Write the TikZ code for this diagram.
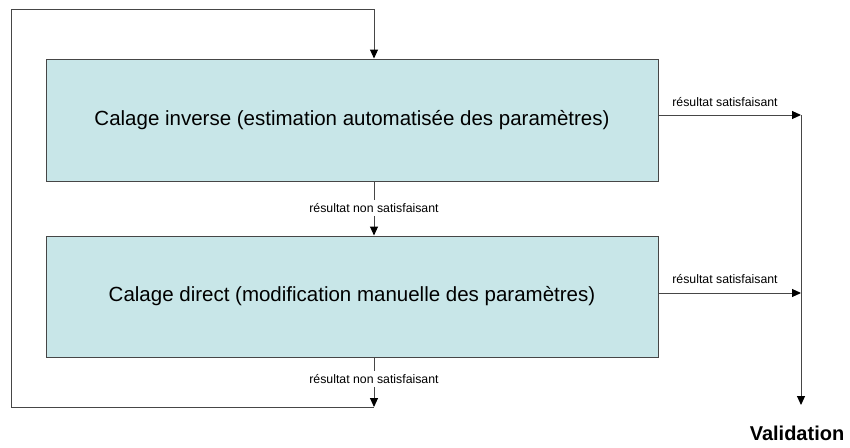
\documentclass[tikz,border=0pt]{standalone}
\usepackage{fontspec}
\setmainfont{Liberation Sans}
\usetikzlibrary{arrows.meta}
\definecolor{boxfill}{RGB}{200,230,232}
\definecolor{wire}{RGB}{70,70,70}
\tikzset{
  stagebox/.style={draw=wire, line width=1pt, fill=boxfill, minimum width=612pt,
    inner sep=0pt, font=\fontsize{20.5}{24}\selectfont},
  wireline/.style={draw=wire, line width=1pt},
  flow/.style={wireline, -{Triangle[length=9pt,width=8pt,color=black]}},
  tag/.style={font=\fontsize{12.3}{14}\selectfont, inner xsep=2pt, inner ysep=3pt},
}
\begin{document}
\begin{tikzpicture}[x=1pt,y=-1pt]
  \useasboundingbox (0,0) rectangle (850,447);

  % the two calibration stages
  \node[stagebox, minimum height=122pt] (inv) at (352,120)
    {Calage inverse (estimation automatisée des paramètres)};
  \node[stagebox, minimum height=121pt] (dir) at (352,296.5)
    {Calage direct (modification manuelle des paramètres)};

  % route points
  \coordinate (loopTL) at (11,9);
  \coordinate (loopTR) at (374,9);
  \coordinate (loopBL) at (11,407);
  \coordinate (loopBR) at (374,407);
  \coordinate (okA) at (801,115);
  \coordinate (okB) at (801,293);
  \coordinate (valTip) at (801,405);

  % labels
  \node[tag] (nokA) at (374,208) {résultat non satisfaisant};
  \node[tag] (nokB) at (374,379) {résultat non satisfaisant};
  \node[tag] (satA) at (725,102) {résultat satisfaisant};
  \node[tag] (satB) at (725,279) {résultat satisfaisant};
  \node[font=\bfseries\fontsize{20}{24}\selectfont] (valid) at (797,433) {Validation};

  % inverse -> direct on failure
  \draw[wireline] (inv.south -| nokA) -- (nokA.north);
  \draw[flow] (nokA.south) -- (nokA |- dir.north);

  % direct -> back to inverse on failure
  \draw[wireline] (dir.south -| nokB) -- (nokB.north);
  \draw[flow] (nokB.south) -- (loopBR);
  \draw[wireline] (loopBR) -- (loopBL) -- (loopTL) -- (loopTR);
  \draw[flow] (loopTR) -- (loopTR |- inv.north);

  % success branches
  \draw[flow] (inv.east |- okA) -- (okA);
  \draw[flow] (dir.east |- okB) -- (okB);
  \draw[flow] (okA) -- (valTip);
\end{tikzpicture}
\end{document}
